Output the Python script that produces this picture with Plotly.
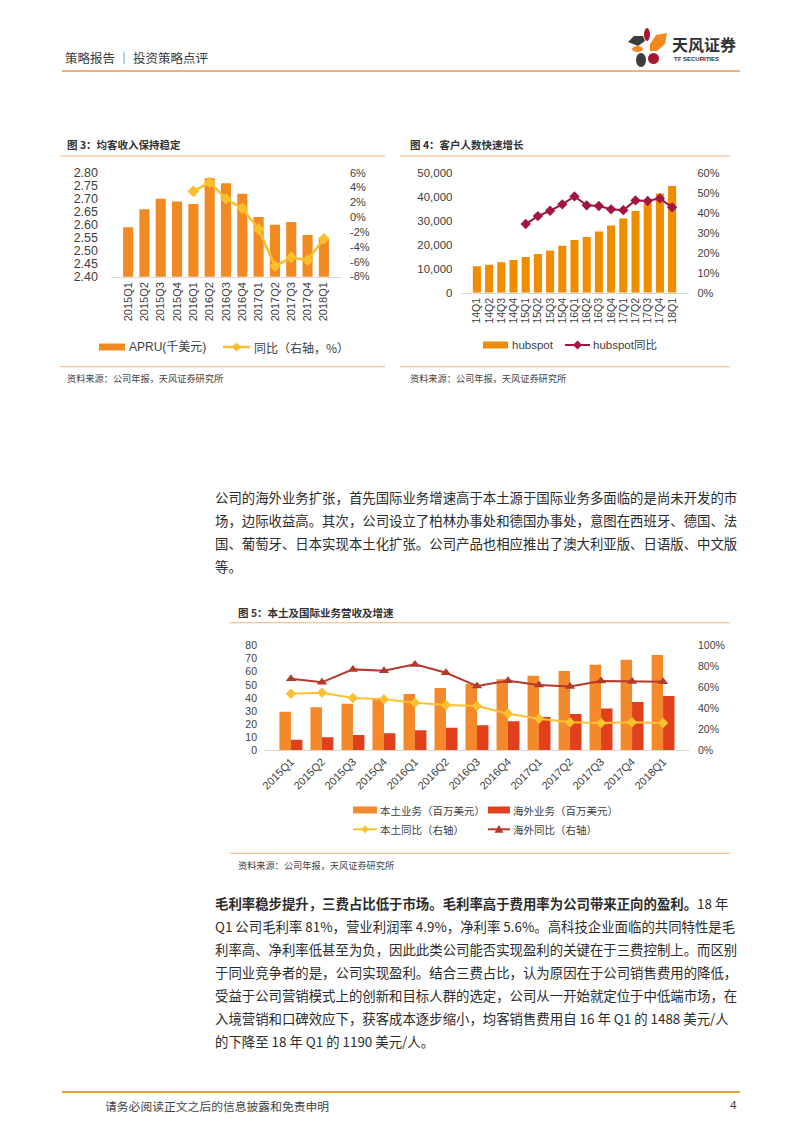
import plotly.graph_objects as go

# The browser page keeps its default 8px body margin, so the figure is drawn 8px in;
# page coordinates below are converted accordingly.
OFF = 8
W, H = 800 - OFF, 1132 - OFF


def X(px):
    return (px - OFF) / W


def Y(py):
    return 1 - (py - OFF) / H


# ---------------- data ----------------
quarters_15_18 = ["2015Q1", "2015Q2", "2015Q3", "2015Q4", "2016Q1", "2016Q2", "2016Q3",
                  "2016Q4", "2017Q1", "2017Q2", "2017Q3", "2017Q4", "2018Q1"]
apru = [2.59, 2.66, 2.70, 2.69, 2.68, 2.78, 2.76, 2.72, 2.63, 2.60, 2.61, 2.56, 2.55]
apru_yoy = [None, None, None, None, 3.5, 4.7, 2.5, 1.2, -1.6, -6.6, -5.4, -5.8, -2.9]

quarters_14_18 = ["14Q1", "14Q2", "14Q3", "14Q4", "15Q1", "15Q2", "15Q3", "15Q4", "16Q1",
                  "16Q2", "16Q3", "16Q4", "17Q1", "17Q2", "17Q3", "17Q4", "18Q1"]
hubspot_customers = [11100, 11700, 12700, 13700, 14900, 16200, 17700, 19700, 22100,
                     23300, 25600, 28100, 31100, 34200, 37400, 41500, 44700]
hubspot_yoy = [None, None, None, None, 34.5, 38.5, 41.2, 44.4, 48.4,
               43.9, 43.6, 41.9, 41.5, 46.4, 46.1, 47.4, 42.9]

domestic_rev = [29.4, 32.7, 35.5, 39.5, 42.9, 47.5, 50.9, 54.2, 57.0, 60.6, 65.4, 69.3, 72.8]
overseas_rev = [7.9, 9.7, 11.5, 12.8, 15.1, 17.1, 18.9, 22.0, 25.3, 27.6, 31.9, 36.8, 41.4]
domestic_yoy = [54.0, 55.0, 49.8, 48.6, 45.4, 43.1, 42.2, 34.8, 30.0, 26.5, 25.9, 26.5, 25.9]
overseas_yoy = [68.4, 64.9, 77.3, 76.0, 82.1, 74.1, 61.3, 66.5, 62.3, 61.0, 66.1, 65.8, 65.5]

apru_ticks = [2.40, 2.45, 2.50, 2.55, 2.60, 2.65, 2.70, 2.75, 2.80]
apru_yoy_ticks = [-8, -6, -4, -2, 0, 2, 4, 6]
cust_ticks = [0, 10000, 20000, 30000, 40000, 50000]
cust_yoy_ticks = [0, 10, 20, 30, 40, 50, 60]
rev_ticks = [0, 10, 20, 30, 40, 50, 60, 70, 80]
rev_yoy_ticks = [0, 20, 40, 60, 80, 100]

# colours
C3_BAR, C3_LINE = "#F28A24", "#FBBF2C"
C4_BAR, C4_LINE = "#F08C00", "#A2163F"
C5_DOM, C5_OVS, C5_DOMY, C5_OVSY = "#F3892A", "#E0401C", "#FDC030", "#B33A2B"
TXT = "#333333"
TICK = "#404040"
RULE = "#F4B67A"

FONT = "Liberation Sans, Arial, Noto Sans CJK SC, sans-serif"
CJK = "Noto Sans CJK SC, sans-serif"

fig = go.Figure()

# ---------------- chart 3 ----------------
fig.add_trace(go.Bar(x=quarters_15_18, y=apru, marker_color=C3_BAR, width=0.62,
                     xaxis="x", yaxis="y", name="APRU(千美元)", showlegend=False))
fig.add_trace(go.Scatter(x=quarters_15_18, y=apru_yoy, mode="lines+markers",
                         line=dict(color=C3_LINE, width=2.5),
                         marker=dict(symbol="diamond", size=9, color=C3_LINE),
                         xaxis="x", yaxis="y2", name="同比（右轴，%）", showlegend=False))

# ---------------- chart 4 ----------------
fig.add_trace(go.Bar(x=quarters_14_18, y=hubspot_customers, marker_color=C4_BAR, width=0.66,
                     xaxis="x2", yaxis="y3", name="hubspot", showlegend=False))
fig.add_trace(go.Scatter(x=quarters_14_18, y=hubspot_yoy, mode="lines+markers",
                         line=dict(color=C4_LINE, width=2),
                         marker=dict(symbol="diamond", size=8, color=C4_LINE),
                         xaxis="x2", yaxis="y4", name="hubspot同比", showlegend=False))

# ---------------- chart 5 ----------------
fig.add_trace(go.Bar(x=quarters_15_18, y=domestic_rev, marker_color=C5_DOM, width=0.37, offset=-0.37,
                     xaxis="x3", yaxis="y5", name="本土业务（百万美元）", showlegend=False))
fig.add_trace(go.Bar(x=quarters_15_18, y=overseas_rev, marker_color=C5_OVS, width=0.37, offset=0,
                     xaxis="x3", yaxis="y5", name="海外业务（百万美元）", showlegend=False))
fig.add_trace(go.Scatter(x=quarters_15_18, y=domestic_yoy, mode="lines+markers",
                         line=dict(color=C5_DOMY, width=2),
                         marker=dict(symbol="diamond", size=8, color=C5_DOMY),
                         xaxis="x3", yaxis="y6", name="本土同比（右轴）", showlegend=False))
fig.add_trace(go.Scatter(x=quarters_15_18, y=overseas_yoy, mode="lines+markers",
                         line=dict(color=C5_OVSY, width=2),
                         marker=dict(symbol="triangle-up", size=9, color=C5_OVSY),
                         xaxis="x3", yaxis="y6", name="海外同比（右轴）", showlegend=False))


def xax(domain, anchor, angle, size, cats):
    return dict(domain=domain, anchor=anchor, type="category", showline=True, linecolor="#D9D9D9",
                linewidth=1, ticks="", showgrid=False, zeroline=False, tickangle=angle,
                tickmode="array", tickvals=cats, ticktext=cats,
                tickfont=dict(size=size, color=TICK, family=FONT), automargin=False, fixedrange=True)


def yax(domain, anchor, rng, vals, texts, size, standoff, side="left", overlay=None):
    d = dict(anchor=anchor, range=rng, tickvals=vals, ticktext=texts, showgrid=False,
             zeroline=False, showline=False, ticks="", side=side,
             tickfont=dict(size=size, color=TICK, family=FONT), automargin=False,
             ticklabelstandoff=standoff, fixedrange=True)
    if overlay:
        d["overlaying"] = overlay
    else:
        d["domain"] = domain
    return d


layout_axes = dict(
    xaxis=xax([X(111), X(341)], "y", -90, 11, quarters_15_18),
    yaxis=yax([Y(276.7), Y(172.7)], "x", [2.399, 2.801], apru_ticks,
              [f"{v:.2f}" for v in apru_ticks], 12.5, 12),
    yaxis2=yax(None, "x", [-8.01, 6.01], apru_yoy_ticks, [f"{v}%" for v in apru_yoy_ticks],
               11, 8, side="right", overlay="y"),
    xaxis2=xax([X(460.5), X(688.5)], "y3", -90, 10.5, quarters_14_18),
    yaxis3=yax([Y(292.7), Y(173.3)], "x2", [0, 50001], cust_ticks,
               [f"{v:,}" for v in cust_ticks], 11.5, 7),
    yaxis4=yax(None, "x2", [0, 60.01], cust_yoy_ticks, [f"{v}%" for v in cust_yoy_ticks],
               11, 8, side="right", overlay="y3"),
    xaxis3=xax([X(264), X(690)], "y5", -45, 11, quarters_15_18),
    yaxis5=yax([Y(750), Y(645.7)], "x3", [0, 80.01], rev_ticks, [str(v) for v in rev_ticks],
               10.5, 6, side="left"),
    yaxis6=yax(None, "x3", [0, 100.01], rev_yoy_ticks, [f"{v}%" for v in rev_yoy_ticks],
               10.5, 7, side="right", overlay="y5"),
)

# ---------------- page decorations ----------------
shapes = []
annotations = []


def hline(x0, x1, y, color, width):
    shapes.append(dict(type="line", xref="paper", yref="paper", x0=X(x0), x1=X(x1), y0=Y(y), y1=Y(y),
                       line=dict(color=color, width=width)))


def rect(x0, x1, y0, y1, color):
    shapes.append(dict(type="rect", xref="paper", yref="paper", x0=X(x0), x1=X(x1), y0=Y(y1), y1=Y(y0),
                       fillcolor=color, line=dict(width=0)))


def ellipse(x0, x1, y0, y1, color):
    shapes.append(dict(type="circle", xref="paper", yref="paper", x0=X(x0), x1=X(x1), y0=Y(y1), y1=Y(y0),
                       fillcolor=color, line=dict(width=0)))


def poly(points, color):
    path = "M " + " L ".join(f"{X(px)},{Y(py)}" for px, py in points) + " Z"
    shapes.append(dict(type="path", xref="paper", yref="paper", path=path, fillcolor=color,
                       line=dict(width=0)))


def diamond(cx, cy, r, color):
    poly([(cx, cy - r), (cx + r, cy), (cx, cy + r), (cx - r, cy)], color)


def triangle(cx, cy, r, color):
    poly([(cx, cy - r), (cx + r, cy + r * 0.75), (cx - r, cy + r * 0.75)], color)


def text(x, y, s, size, color=TXT, family=CJK, anchor="left"):
    annotations.append(dict(xref="paper", yref="paper", x=X(x), y=Y(y), text=s, showarrow=False,
                            xanchor=anchor, yanchor="middle",
                            font=dict(size=size, color=color, family=family)))


# header
text(63, 57, "策略报告 ｜ 投资策略点评", 12.5, color="#3a3a3a")
hline(62, 740, 71, "#E99A45", 1.6)
# logo (petal shapes)
ellipse(644, 650, 28, 41, "#A6192E")
poly([(628, 42), (634, 36), (643, 36), (645, 41), (638, 46)], "#3C3C3C")
poly([(650, 44), (656, 35), (667, 33), (665, 44), (657, 51), (650, 51)], "#F08A1C")
ellipse(632, 643, 46, 52, "#F08A1C")
ellipse(648, 659, 53, 64, "#A6192E")
ellipse(636, 646, 53, 67, "#3C3C3C")
text(670, 44, "<b>天风证券</b>", 16, color="#333333")
text(671.5, 59, "<b>TF SECURITIES</b>", 6, color="#333333", family=FONT)

# chart 3 frame
text(65, 145, "<b>图 3：均客收入保持稳定</b>", 10.5)
hline(60, 385, 156, RULE, 1)
hline(60, 385, 366.7, RULE, 1)
text(65, 378, "资料来源：公司年报，天风证券研究所", 9.2, color="#444444")
rect(99, 125, 343.5, 350.5, C3_BAR)
text(127, 347, "APRU(千美元)", 12, color=TICK, family=FONT)
hline(223, 250, 347, C3_LINE, 2.5)
diamond(236.5, 347, 4.5, C3_LINE)
text(252, 347, "同比（右轴，%）", 12, color=TICK)

# chart 4 frame
text(408, 145, "<b>图 4：客户人数快速增长</b>", 10.5)
hline(400, 730, 156, RULE, 1)
hline(400, 730, 366.7, RULE, 1)
text(408, 378, "资料来源：公司年报，天风证券研究所", 9.2, color="#444444")
rect(483, 508, 341.5, 348.5, C4_BAR)
text(510, 345, "hubspot", 11.5, color=TICK, family=FONT)
hline(565, 590, 345, C4_LINE, 2)
diamond(577.5, 345, 4.5, C4_LINE)
text(591, 345, "hubspot同比", 11.5, color=TICK, family=FONT)

# chart 5 frame
text(236, 612.7, "<b>图 5：本土及国际业务营收及增速</b>", 10.5)
hline(230, 730, 622.7, RULE, 1)
hline(230, 730, 853.3, RULE, 1)
text(236, 865, "资料来源：公司年报，天风证券研究所", 9.2, color="#444444")
rect(353, 377, 806.5, 813.5, C5_DOM)
text(378, 810, "本土业务（百万美元）", 10.5, color=TICK)
rect(488, 510, 806.5, 813.5, C5_OVS)
text(511, 810, "海外业务（百万美元）", 10.5, color=TICK)
hline(353, 377, 829.3, C5_DOMY, 2)
diamond(365, 829.3, 4, C5_DOMY)
text(378, 829.3, "本土同比（右轴）", 10.5, color=TICK)
hline(488, 510, 829.3, C5_OVSY, 2)
triangle(499, 829.3, 4.5, C5_OVSY)
text(511, 829.3, "海外同比（右轴）", 10.5, color=TICK)

# paragraph 1
para1 = [
    "公司的海外业务扩张，首先国际业务增速高于本土源于国际业务多面临的是尚未开发的市",
    "场，边际收益高。其次，公司设立了柏林办事处和德国办事处，意图在西班牙、德国、法",
    "国、葡萄牙、日本实现本土化扩张。公司产品也相应推出了澳大利亚版、日语版、中文版",
    "等。",
]
for i, line in enumerate(para1):
    text(213, 497 + 23 * i, line, 13.4, color="#2b2b2b")

# paragraph 2
para2 = [
    "<b>毛利率稳步提升，三费占比低于市场。毛利率高于费用率为公司带来正向的盈利。</b>18 年",
    "Q1 公司毛利率 81%，营业利润率 4.9%，净利率 5.6%。高科技企业面临的共同特性是毛",
    "利率高、净利率低甚至为负，因此此类公司能否实现盈利的关键在于三费控制上。而区别",
    "于同业竞争者的是，公司实现盈利。结合三费占比，认为原因在于公司销售费用的降低，",
    "受益于公司营销模式上的创新和目标人群的选定，公司从一开始就定位于中低端市场，在",
    "入境营销和口碑效应下，获客成本逐步缩小，均客销售费用自 16 年 Q1 的 1488 美元/人",
    "的下降至 18 年 Q1 的 1190 美元/人。",
]
for i, line in enumerate(para2):
    text(213, 903 + 23 * i, line, 13.4, color="#2b2b2b")

# footer
hline(62, 740, 1092, "#E4A23B", 1.8)
text(103, 1105, "请务必阅读正文之后的信息披露和免责申明", 11.8, color="#444444")
text(739, 1105, "4", 11.8, color="#444444", family=FONT, anchor="right")

fig.update_layout(
    width=W, height=H, autosize=False,
    margin=dict(l=0, r=0, t=0, b=0, pad=0),
    paper_bgcolor="white", plot_bgcolor="rgba(0,0,0,0)",
    template="none", showlegend=False, barmode="group",
    font=dict(family=FONT, color=TICK),
    shapes=shapes, annotations=annotations,
    **layout_axes,
)

fig.write_html("out.html", config=dict(displayModeBar=False))
